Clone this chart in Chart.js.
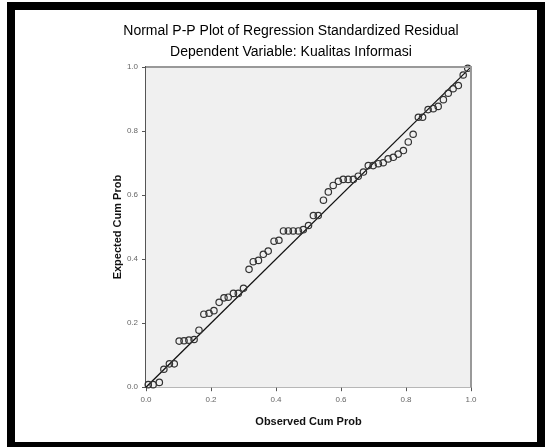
<!DOCTYPE html>
<html>
<head>
<meta charset="utf-8">
<script src="https://cdn.jsdelivr.net/npm/chart.js@4/dist/chart.umd.min.js"></script>
<style>
  html, body { margin: 0; padding: 0; background: #fff; overflow: hidden; }
  #wrap { position: relative; width: 550px; height: 447px; }
  #frame {
    position: absolute; left: 7px; top: 2px; width: 538px; height: 448px;
    box-sizing: border-box; border: 8px solid #000; pointer-events: none;
  }
</style>
</head>
<body>
<div id="wrap">
  <canvas id="ppChart" width="550" height="447"></canvas>
  <div id="frame"></div>
</div>
<script>
// observed cumulative probability (x) and expected cumulative probability (y)
const observedCum = [
  0.007, 0.022, 0.041, 0.055, 0.072, 0.087, 0.102, 0.117, 0.132, 0.148,
  0.163, 0.178, 0.194, 0.209, 0.225, 0.240, 0.253, 0.269, 0.284, 0.300,
  0.317, 0.330, 0.346, 0.361, 0.376, 0.394, 0.409, 0.423, 0.438, 0.453,
  0.469, 0.484, 0.500, 0.515, 0.530, 0.546, 0.561, 0.576, 0.592, 0.607,
  0.622, 0.638, 0.653, 0.669, 0.684, 0.699, 0.715, 0.730, 0.745, 0.761,
  0.776, 0.792, 0.807, 0.822, 0.838, 0.851, 0.868, 0.884, 0.899, 0.915,
  0.930, 0.945, 0.961, 0.976, 0.990
];
const expectedCum = [
  0.008, 0.008, 0.015, 0.056, 0.073, 0.073, 0.144, 0.145, 0.147, 0.149,
  0.178, 0.228, 0.231, 0.239, 0.265, 0.279, 0.281, 0.293, 0.293, 0.309,
  0.368, 0.392, 0.396, 0.415, 0.425, 0.456, 0.459, 0.488, 0.488, 0.488,
  0.488, 0.492, 0.505, 0.536, 0.536, 0.584, 0.610, 0.630, 0.643, 0.649,
  0.649, 0.649, 0.659, 0.672, 0.692, 0.692, 0.698, 0.701, 0.713, 0.718,
  0.728, 0.739, 0.766, 0.790, 0.843, 0.843, 0.867, 0.870, 0.877, 0.898,
  0.918, 0.932, 0.942, 0.975, 0.996
];
const diagonal = [0, 1];
const tickValues = [0, 0.2, 0.4, 0.6, 0.8, 1.0];

const titleText = "Normal P-P Plot of Regression Standardized Residual";
const subtitleText = "Dependent Variable: Kualitas Informasi";
const xTitle = "Observed Cum Prob";
const yTitle = "Expected Cum Prob";

const plotFrame = {
  id: "plotFrame",
  beforeDatasetsDraw(chart) {
    const { ctx, chartArea: a } = chart;
    ctx.save();
    ctx.fillStyle = "#f0f0f0";
    ctx.fillRect(a.left, a.top, a.right - a.left, a.bottom - a.top);
    ctx.restore();
  },
  afterDraw(chart) {
    const { ctx, chartArea: a } = chart;
    ctx.save();
    ctx.strokeStyle = "#999";
    ctx.lineWidth = 2;
    ctx.beginPath();
    ctx.moveTo(a.left, a.top);
    ctx.lineTo(a.right, a.top);
    ctx.lineTo(a.right, a.bottom);
    ctx.stroke();
    ctx.restore();
  },
};

const axisCommon = {
  type: "linear",
  min: 0,
  max: 1,
  border: { color: "#555", width: 1.5 },
  grid: { drawOnChartArea: false, drawTicks: true, tickLength: 4, color: "#555" },
  afterBuildTicks: (scale) => {
    scale.ticks = tickValues.map((v) => ({ value: v }));
  },
};

new Chart(document.getElementById("ppChart"), {
  type: "scatter",
  data: {
    datasets: [
      {
        type: "line",
        data: diagonal.map((v) => ({ x: v, y: v })),
        borderColor: "#111",
        borderWidth: 1.2,
        pointRadius: 0,
        fill: false,
        order: 2,
      },
      {
        data: observedCum.map((x, i) => ({ x: x, y: expectedCum[i] })),
        pointRadius: 3.2,
        pointBorderWidth: 1.2,
        pointBorderColor: "#333",
        pointBackgroundColor: "rgba(0,0,0,0)",
        clip: 6,
        order: 1,
      },
    ],
  },
  options: {
    responsive: false,
    animation: false,
    layout: { padding: { left: 111, right: 79, top: 0, bottom: 0 } },
    plugins: {
      legend: { display: false },
      tooltip: { enabled: false },
      title: {
        display: true,
        text: titleText,
        color: "#000",
        font: { family: "Liberation Sans, Arial", size: 14, weight: "normal" },
        padding: { top: 23, bottom: 0 },
      },
      subtitle: {
        display: true,
        text: subtitleText,
        color: "#000",
        font: { family: "Liberation Sans, Arial", size: 14, weight: "normal" },
        padding: { top: 4, bottom: 6.4 },
      },
    },
    scales: {
      x: {
        ...axisCommon,
        position: "bottom",
        ticks: {
          color: "#666",
          padding: 4,
          font: { family: "Liberation Sans, Arial", size: 8 },
          callback: (v) => v.toFixed(1),
        },
        title: {
          display: true,
          text: xTitle,
          color: "#111",
          font: { family: "Liberation Sans, Arial", size: 11, weight: "bold" },
          padding: { top: 7, bottom: 18 },
        },
        afterFit: (scale) => {
          scale.paddingLeft = 0;
          scale.paddingRight = 0;
        },
      },
      y: {
        ...axisCommon,
        position: "left",
        ticks: {
          color: "#666",
          padding: 4,
          font: { family: "Liberation Sans, Arial", size: 8 },
          callback: (v) => v.toFixed(1),
        },
        title: {
          display: true,
          text: yTitle,
          color: "#111",
          font: { family: "Liberation Sans, Arial", size: 11, weight: "bold" },
          padding: { top: 0, bottom: 0 },
        },
        afterFit: (scale) => {
          scale.width = 35;
        },
      },
    },
  },
  plugins: [plotFrame],
});
</script>
</body>
</html>
